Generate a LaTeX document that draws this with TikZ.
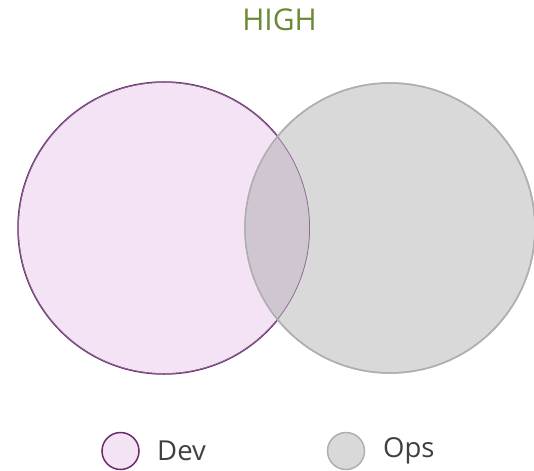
\documentclass[tikz,border=0pt]{standalone}
\usepackage{fontspec}
\setmainfont{Open Sans}
\definecolor{devfill}{HTML}{F3E3F4}
\definecolor{devline}{HTML}{6A2C6E}
\definecolor{opsfill}{HTML}{D9D9D9}
\definecolor{opsline}{HTML}{AFAFAF}
\definecolor{lensfill}{HTML}{D0C6D2}
\definecolor{lensline}{HTML}{8C6A90}
\definecolor{titlegreen}{HTML}{6B8A35}
\definecolor{txtgray}{HTML}{404040}
\begin{document}
\begin{tikzpicture}[x=1pt,y=-1pt,
  devc/.style={circle,draw=devline,fill=devfill,line width=1.5pt,inner sep=0pt},
  opsc/.style={circle,draw=opsline,fill=opsfill,line width=1.5pt,inner sep=0pt},
  lbl/.style={text=txtgray,font=\fontsize{27.5}{31}\selectfont,anchor=west,inner sep=0pt}]
\useasboundingbox (0,0) rectangle (534,470);
% main circles
\node[devc,minimum size=292pt] (dev) at (164,228) {};
\node[opsc,minimum size=290pt] (ops) at (390,228) {};
\begin{scope}
  \clip (164,228) circle (146);
  \fill[lensfill] (390,228) circle (145);
  \draw[lensline,line width=1.5pt] (164,228) circle (146);
\end{scope}
\draw[opsline,line width=1.5pt] (390,228) circle (145);
% title
\node[text=titlegreen,font=\fontsize{30}{36}\selectfont,inner sep=0pt] (title) at (279.5,20) {HIGH};
% legend
\node[devc,minimum size=37pt] (devleg) at (120.5,451) {};
\node[lbl] (devtxt) at (157,451) {Dev};
\node[opsc,minimum size=37pt] (opsleg) at (346,451) {};
\node[lbl] (opstxt) at (383,451) {Ops};
\end{tikzpicture}
\end{document}
